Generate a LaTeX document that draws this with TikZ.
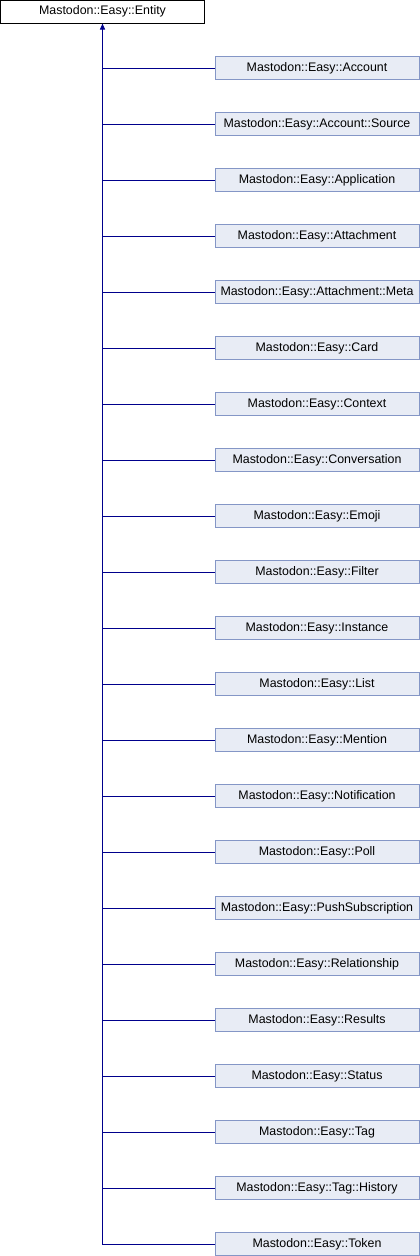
\documentclass[tikz,border=0pt]{standalone}
\usepackage{fontspec}
\setmainfont{Liberation Sans}
\usetikzlibrary{arrows.meta}
\definecolor{boxfill}{HTML}{E8ECF5}
\definecolor{boxline}{HTML}{8496C6}
\definecolor{edgecol}{HTML}{00008C}
\tikzset{
  rootbox/.style={draw=black, fill=white, line width=1pt, minimum width=204pt, minimum height=22.5pt, inner sep=0pt, font=\fontsize{12.4}{14}\selectfont},
  childbox/.style={draw=boxline, fill=boxfill, line width=1pt, minimum width=204pt, minimum height=22.5pt, inner sep=0pt, font=\fontsize{12.4}{14}\selectfont},
  edge/.style={draw=edgecol, line width=1pt},
}
\begin{document}
\begin{tikzpicture}[x=1pt,y=-1pt]
\useasboundingbox (0,0) rectangle (420,1256);
\node[rootbox] (root) at (102.5,11.75) {Mastodon::Easy::Entity};
\foreach \name [count=\i from 0] in {Account,Account::Source,Application,Attachment,Attachment::Meta,Card,Context,Conversation,Emoji,Filter,Instance,List,Mention,Notification,Poll,PushSubscription,Relationship,Results,Status,Tag,Tag::History,Token}{
  \node[childbox] (c\i) at (317,68+56*\i) {Mastodon::Easy::\name};
}
\draw[edge, -{Triangle[width=5pt,length=6pt]}] (c21.west) -| (root.south);
\foreach \i in {0,...,20}{
  \draw[edge] (c\i.west) -- (c\i.west -| root.south);
}
\end{tikzpicture}
\end{document}
